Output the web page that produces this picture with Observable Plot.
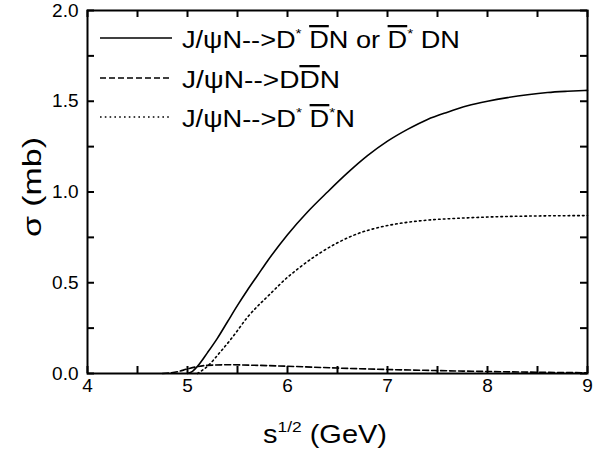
<!DOCTYPE html>
<html>
<head>
<meta charset="utf-8">
<script src="https://cdn.jsdelivr.net/npm/d3@7"></script>
<script src="https://cdn.jsdelivr.net/npm/@observablehq/plot@0.6"></script>
<style>
  html, body { margin: 0; padding: 0; background: #fff; }
  svg { font-family: "Liberation Sans", Arial, sans-serif; }
</style>
</head>
<body>
<div id="chart"></div>
<script>
// Data
const sqrtS_solid = [5.0, 5.05, 5.1, 5.2, 5.3, 5.4, 5.5, 5.6, 5.7, 5.8, 6.0, 6.2, 6.4, 6.6, 6.8, 7.0, 7.2, 7.4, 7.6, 7.8, 8.0, 8.2, 8.4, 8.6, 8.8, 9.0];
const sigma_solid = [0, 0.012, 0.04, 0.115, 0.195, 0.285, 0.375, 0.46, 0.54, 0.62, 0.765, 0.89, 1.0, 1.105, 1.2, 1.28, 1.345, 1.4, 1.44, 1.475, 1.5, 1.52, 1.536, 1.548, 1.555, 1.56];

const sqrtS_dashed = [4.75, 4.9, 5.0, 5.1, 5.2, 5.4, 5.7, 6.0, 6.5, 7.0, 7.5, 8.0, 8.5, 9.0];
const sigma_dashed = [0, 0.01, 0.025, 0.038, 0.045, 0.048, 0.045, 0.04, 0.03, 0.022, 0.016, 0.011, 0.007, 0.004];

const sqrtS_dotted = [5.1, 5.2, 5.33, 5.45, 5.6, 5.83, 6.0, 6.1, 6.3, 6.5, 6.7, 6.9, 7.1, 7.4, 7.7, 8.0, 8.5, 9.0];
const sigma_dotted = [0, 0.04, 0.12, 0.2, 0.31, 0.44, 0.53, 0.575, 0.655, 0.72, 0.77, 0.803, 0.825, 0.845, 0.855, 0.862, 0.868, 0.87];

const xTickLabels = [4, 5, 6, 7, 8, 9];
const xTicksAll = [4, 4.5, 5, 5.5, 6, 6.5, 7, 7.5, 8, 8.5, 9];
const yTickLabels = [0, 0.5, 1.0, 1.5, 2.0];
const yTicksAll = [0, 0.25, 0.5, 0.75, 1.0, 1.25, 1.5, 1.75, 2.0];

const zip = (xs, ys) => xs.map((x, i) => ({x, y: ys[i]}));
const solid = zip(sqrtS_solid, sigma_solid);
const dashed = zip(sqrtS_dashed, sigma_dashed);
const dotted = zip(sqrtS_dotted, sigma_dotted);

const W = 609, H = 451, mL = 87, mR = 22, mT = 10, mB = 78;
const plotH = H - mT - mB, plotW = W - mL - mR;
const tl = 7;

const chart = Plot.plot({
  width: W, height: H,
  marginLeft: mL, marginRight: mR, marginTop: mT, marginBottom: mB,
  style: {fontFamily: "Liberation Sans, Arial, sans-serif", background: "white", color: "black"},
  x: {domain: [4, 9]},
  y: {domain: [0, 2]},
  marks: [
    Plot.axisX({ticks: xTickLabels, tickSize: 0, tickPadding: 5, fontSize: 19, label: null, tickFormat: d3.format("d")}),
    Plot.axisY({ticks: yTickLabels, tickSize: 0, tickPadding: 9, fontSize: 19, label: null, tickFormat: d3.format(".1f")}),
    // inward ticks on all four sides
    Plot.tickX(xTicksAll, {x: d => d, insetTop: plotH - tl, stroke: "black", strokeWidth: 2}),
    Plot.tickX(xTicksAll, {x: d => d, insetBottom: plotH - tl, stroke: "black", strokeWidth: 2}),
    Plot.tickY(yTicksAll, {y: d => d, insetRight: plotW - tl, stroke: "black", strokeWidth: 2}),
    Plot.tickY(yTicksAll, {y: d => d, insetLeft: plotW - tl, stroke: "black", strokeWidth: 2}),
    Plot.line(solid, {x: "x", y: "y", curve: "monotone-x", stroke: "black", strokeWidth: 1.6}),
    Plot.line(dashed, {x: "x", y: "y", curve: "monotone-x", stroke: "black", strokeWidth: 1.6, strokeDasharray: "6,3"}),
    Plot.line(dotted, {x: "x", y: "y", curve: "monotone-x", stroke: "black", strokeWidth: 1.6, strokeDasharray: "1.6,3.2"}),
    Plot.frame({stroke: "black", strokeWidth: 2})
  ]
});

document.getElementById("chart").appendChild(chart);

const svg = d3.select(chart);

// Axis titles
const xt = svg.append("text")
  .attr("x", 263).attr("y", 443)
  .attr("text-anchor", "start")
  .attr("textLength", 124).attr("lengthAdjust", "spacingAndGlyphs")
  .attr("font-size", 25).attr("fill", "black");
xt.append("tspan").text("s");
xt.append("tspan").attr("dy", -11).attr("font-size", 15).text("1/2");
xt.append("tspan").attr("dy", 11).text(" (GeV)");

svg.append("text")
  .attr("transform", "translate(41,187) rotate(-90)")
  .attr("text-anchor", "middle")
  .attr("textLength", 100).attr("lengthAdjust", "spacingAndGlyphs")
  .attr("font-size", 25).attr("fill", "black")
  .text("σ (mb)");

// Legend
const rows = [
  {y: 38, dash: null},
  {y: 78, dash: "6,3"},
  {y: 117, dash: "1.6,3.2"}
];
rows.forEach(r => {
  svg.append("line")
    .attr("x1", 100).attr("x2", 172).attr("y1", r.y).attr("y2", r.y)
    .attr("stroke", "black").attr("stroke-width", 1.6)
    .attr("stroke-dasharray", r.dash);
});

function legendText(y, len, parts) {
  const t = svg.append("text").attr("x", 182).attr("y", y)
    .attr("text-anchor", "start")
    .attr("textLength", len).attr("lengthAdjust", "spacingAndGlyphs")
    .attr("font-size", 23).attr("fill", "black");
  parts.forEach(p => {
    const s = t.append("tspan").text(p.t);
    if (p.sup) s.attr("font-size", 13).attr("dy", -10);
    if (p.down) s.attr("dy", 10);
    if (p.bar) s.style("text-decoration", "overline");
  });
}
legendText(48, 278, [
  {t: "J/ψN-->D"}, {t: "*", sup: true}, {t: "\u00a0", down: true}, {t: "D", bar: true},
  {t: "N or "}, {t: "D", bar: true}, {t: "*", sup: true}, {t: "\u00a0DN", down: true}
]);
legendText(88, 158, [
  {t: "J/ψN-->D"}, {t: "D", bar: true}, {t: "N"}
]);
legendText(127, 173, [
  {t: "J/ψN-->D"}, {t: "*", sup: true}, {t: "\u00a0", down: true}, {t: "D", bar: true},
  {t: "*", sup: true}, {t: "N", down: true}
]);
</script>
</body>
</html>
